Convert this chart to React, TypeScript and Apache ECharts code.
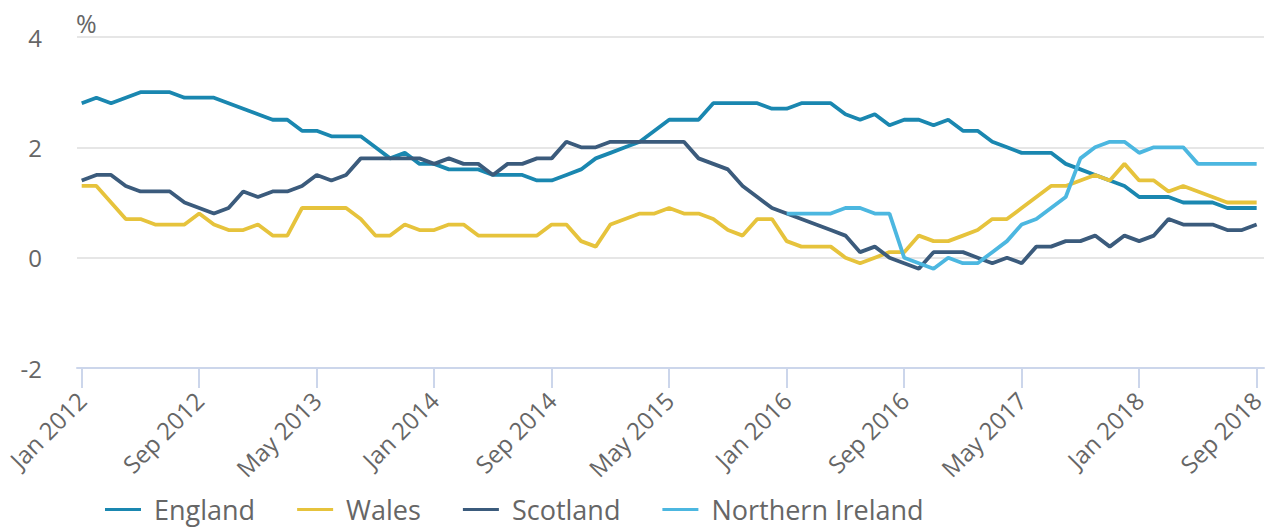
import React, { useEffect, useRef } from "react";
import * as echarts from "echarts";

const MONTHS = ["Jan", "Feb", "Mar", "Apr", "May", "Jun", "Jul", "Aug", "Sep", "Oct", "Nov", "Dec"];
const YEARS = [2012, 2013, 2014, 2015, 2016, 2017, 2018];
// monthly categories Jan 2012 .. Sep 2018
const categories: string[] = YEARS.flatMap((y) => MONTHS.map((m) => `${m} ${y}`)).slice(0, 81);
const tickIndexes = [0, 8, 16, 24, 32, 40, 48, 56, 64, 72, 80];

const england = [
  2.8, 2.9, 2.8, 2.9, 3.0, 3.0, 3.0, 2.9, 2.9, 2.9,
  2.8, 2.7, 2.6, 2.5, 2.5, 2.3, 2.3, 2.2, 2.2, 2.2,
  2.0, 1.8, 1.9, 1.7, 1.7, 1.6, 1.6, 1.6, 1.5, 1.5,
  1.5, 1.4, 1.4, 1.5, 1.6, 1.8, 1.9, 2.0, 2.1, 2.3,
  2.5, 2.5, 2.5, 2.8, 2.8, 2.8, 2.8, 2.7, 2.7, 2.8,
  2.8, 2.8, 2.6, 2.5, 2.6, 2.4, 2.5, 2.5, 2.4, 2.5,
  2.3, 2.3, 2.1, 2.0, 1.9, 1.9, 1.9, 1.7, 1.6, 1.5,
  1.4, 1.3, 1.1, 1.1, 1.1, 1.0, 1.0, 1.0, 0.9, 0.9,
  0.9,
];
const wales = [
  1.3, 1.3, 1.0, 0.7, 0.7, 0.6, 0.6, 0.6, 0.8, 0.6,
  0.5, 0.5, 0.6, 0.4, 0.4, 0.9, 0.9, 0.9, 0.9, 0.7,
  0.4, 0.4, 0.6, 0.5, 0.5, 0.6, 0.6, 0.4, 0.4, 0.4,
  0.4, 0.4, 0.6, 0.6, 0.3, 0.2, 0.6, 0.7, 0.8, 0.8,
  0.9, 0.8, 0.8, 0.7, 0.5, 0.4, 0.7, 0.7, 0.3, 0.2,
  0.2, 0.2, 0.0, -0.1, 0.0, 0.1, 0.1, 0.4, 0.3, 0.3,
  0.4, 0.5, 0.7, 0.7, 0.9, 1.1, 1.3, 1.3, 1.4, 1.5,
  1.4, 1.7, 1.4, 1.4, 1.2, 1.3, 1.2, 1.1, 1.0, 1.0,
  1.0,
];
const scotland = [
  1.4, 1.5, 1.5, 1.3, 1.2, 1.2, 1.2, 1.0, 0.9, 0.8,
  0.9, 1.2, 1.1, 1.2, 1.2, 1.3, 1.5, 1.4, 1.5, 1.8,
  1.8, 1.8, 1.8, 1.8, 1.7, 1.8, 1.7, 1.7, 1.5, 1.7,
  1.7, 1.8, 1.8, 2.1, 2.0, 2.0, 2.1, 2.1, 2.1, 2.1,
  2.1, 2.1, 1.8, 1.7, 1.6, 1.3, 1.1, 0.9, 0.8, 0.7,
  0.6, 0.5, 0.4, 0.1, 0.2, 0.0, -0.1, -0.2, 0.1, 0.1,
  0.1, 0.0, -0.1, 0.0, -0.1, 0.2, 0.2, 0.3, 0.3, 0.4,
  0.2, 0.4, 0.3, 0.4, 0.7, 0.6, 0.6, 0.6, 0.5, 0.5,
  0.6,
];
// Northern Ireland starts Jan 2016 (index 48)
const niStart = 48;
const northernIreland = [
  0.8, 0.8, 0.8, 0.8, 0.9, 0.9, 0.8, 0.8, 0.0, -0.1,
  -0.2, 0.0, -0.1, -0.1, 0.1, 0.3, 0.6, 0.7, 0.9, 1.1,
  1.8, 2.0, 2.1, 2.1, 1.9, 2.0, 2.0, 2.0, 1.7, 1.7,
  1.7, 1.7, 1.7,
];

const seriesNames = ["England", "Wales", "Scotland", "Northern Ireland"];
const seriesColors = ["#1a87b0", "#e6c33c", "#3b5b7c", "#4cb7e0"];
const unitLabel = "%";

const FONT = "'Open Sans', 'Noto Sans', sans-serif";

export default function App() {
  const ref = useRef<HTMLDivElement>(null);
  useEffect(() => {
    document.body.style.margin = "0";
    if (!ref.current) return;
    const chart = echarts.init(ref.current, undefined, { renderer: "svg" });
    const toPairs = (arr: number[], offset = 0) => arr.map((v, i) => [i + offset, v]);
    const datasets = [toPairs(england), toPairs(wales), toPairs(scotland), toPairs(northernIreland, niStart)];
    chart.setOption({
      animation: false,
      textStyle: { fontFamily: FONT },
      grid: { left: 77, right: 5, top: 37, bottom: 159, containLabel: false },
      graphic: [
        {
          type: "text",
          left: 76,
          top: 10,
          style: { text: unitLabel, fill: "#666666", fontSize: 25, fontFamily: FONT },
        },
      ],
      legend: {
        data: seriesNames,
        left: 105,
        top: 496,
        padding: 0,
        icon: "rect",
        itemWidth: 36,
        itemHeight: 3,
        itemGap: 42,
        textStyle: { color: "#666666", fontSize: 27, fontFamily: FONT, padding: [0, 0, 0, 8] },
      },
      xAxis: {
        type: "value",
        min: -0.32,
        max: 80.5,
        splitLine: { show: false },
        axisLine: { show: true, onZero: false, lineStyle: { color: "#ccd6eb", width: 2 } },
        axisTick: {
          show: true,
          length: 20,
          customValues: tickIndexes,
          lineStyle: { color: "#ccd6eb", width: 2 },
        },
        axisLabel: {
          customValues: tickIndexes,
          rotate: 45,
          margin: 28,
          color: "#666666",
          fontSize: 24,
          fontFamily: FONT,
          formatter: (v: number) => categories[Math.round(v)] ?? "",
        },
      },
      yAxis: {
        type: "value",
        min: -2,
        max: 4,
        interval: 2,
        axisLine: { show: false },
        axisTick: { show: false },
        axisLabel: { color: "#666666", fontSize: 24, fontFamily: FONT, margin: 35 },
        splitLine: { show: true, lineStyle: { color: "#e6e6e6", width: 2 } },
      },
      series: seriesNames.map((name, k) => ({
        name,
        type: "line",
        data: datasets[k],
        showSymbol: false,
        symbol: "none",
        color: seriesColors[k],
        lineStyle: { width: 3.8, color: seriesColors[k] },
      })),
    });
    return () => chart.dispose();
  }, []);
  return <div ref={ref} style={{ width: 1269, height: 527 }} />;
}
